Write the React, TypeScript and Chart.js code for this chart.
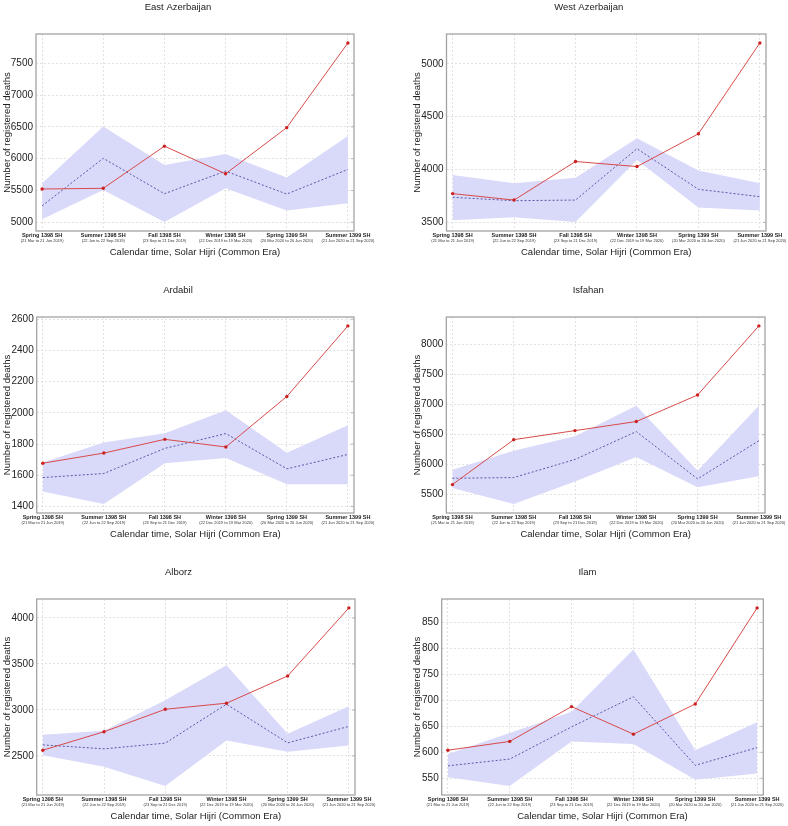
import React, { useEffect, useRef } from "react";
import { Chart, registerables } from "chart.js";

Chart.register(...registerables);

const FONT = '"Liberation Sans", Arial, Helvetica, sans-serif';
Chart.defaults.font.family = FONT;

const categories = ["Spring 1398 SH", "Summer 1398 SH", "Fall 1398 SH", "Winter 1398 SH", "Spring 1399 SH", "Summer 1399 SH"];
const periods = [
  "(21 Mar to 21 Jun 2019)",
  "(22 Jun to 22 Sep 2019)",
  "(23 Sep to 21 Dec 2019)",
  "(22 Dec 2019 to 19 Mar 2020)",
  "(20 Mar 2020 to 20 Jun 2020)",
  "(21 Jun 2020 to 21 Sep 2020)",
];
const xAxisTitle = "Calendar time, Solar Hijri (Common Era)";
const yAxisTitle = "Number of registered deaths";

const eastAzObserved = [5524, 5535, 6197, 5763, 6488, 7818];
const eastAzExpected = [5260, 6006, 5450, 5805, 5445, 5832];
const eastAzUpper = [5614, 6504, 5900, 6075, 5704, 6356];
const eastAzLower = [5048, 5508, 5005, 5535, 5185, 5302];

const westAzObserved = [3772, 3711, 4076, 4028, 4338, 5198];
const westAzExpected = [3737, 3705, 3711, 4197, 3813, 3743];
const westAzUpper = [3948, 3871, 3922, 4296, 3992, 3871];
const westAzLower = [3519, 3548, 3503, 4090, 3641, 3612];

const ardabilObserved = [1677, 1742, 1830, 1781, 2105, 2557];
const ardabilExpected = [1585, 1611, 1772, 1867, 1641, 1733];
const ardabilUpper = [1682, 1809, 1869, 2017, 1744, 1920];
const ardabilLower = [1495, 1415, 1677, 1710, 1542, 1542];

const isfahanObserved = [5668, 6417, 6568, 6719, 7161, 8313];
const isfahanExpected = [5774, 5785, 6087, 6551, 5763, 6400];
const isfahanUpper = [5914, 6233, 6473, 6982, 5897, 6982];
const isfahanLower = [5612, 5343, 5718, 6126, 5623, 5808];

const alborzObserved = [2562, 2763, 3007, 3073, 3369, 4109];
const alborzExpected = [2620, 2577, 2639, 3062, 2642, 2821];
const alborzUpper = [2730, 2774, 3106, 3485, 2741, 3040];
const alborzLower = [2507, 2383, 2172, 2668, 2544, 2613];

const ilamObserved = [604, 621, 688, 635, 693, 878];
const ilamExpected = [574, 587, 649, 707, 575, 609];
const ilamUpper = [597, 637, 678, 798, 604, 658];
const ilamLower = [552, 535, 621, 616, 547, 559];

type Panel = {
  title: string;
  observed: number[];
  expected: number[];
  upper: number[];
  lower: number[];
  step: number;
  col: number;
  row: number;
  plotLeft: number;
  plotRight: number;
};

const panels: Panel[] = [
  { title: "East Azerbaijan", observed: eastAzObserved, expected: eastAzExpected, upper: eastAzUpper, lower: eastAzLower, step: 500, col: 0, row: 0, plotLeft: 36, plotRight: 354 },
  { title: "West Azerbaijan", observed: westAzObserved, expected: westAzExpected, upper: westAzUpper, lower: westAzLower, step: 500, col: 1, row: 0, plotLeft: 52.5, plotRight: 372 },
  { title: "Ardabil", observed: ardabilObserved, expected: ardabilExpected, upper: ardabilUpper, lower: ardabilLower, step: 200, col: 0, row: 1, plotLeft: 36.7, plotRight: 354 },
  { title: "Isfahan", observed: isfahanObserved, expected: isfahanExpected, upper: isfahanUpper, lower: isfahanLower, step: 500, col: 1, row: 1, plotLeft: 52.3, plotRight: 371 },
  { title: "Alborz", observed: alborzObserved, expected: alborzExpected, upper: alborzUpper, lower: alborzLower, step: 500, col: 0, row: 2, plotLeft: 36.7, plotRight: 355 },
  { title: "Ilam", observed: ilamObserved, expected: ilamExpected, upper: ilamUpper, lower: ilamLower, step: 50, col: 1, row: 2, plotLeft: 47.7, plotRight: 369.3 },
];

const W = 394;
const H = 262;
const rowTops = [0, 282, 564];

const framePlugin = {
  id: "frame",
  afterDraw(chart: any) {
    const { ctx, chartArea, scales } = chart;
    const { left, right, top, bottom } = chartArea;
    ctx.save();
    ctx.strokeStyle = "#a4a4a4";
    ctx.lineWidth = 1.3;
    ctx.setLineDash([]);
    ctx.strokeRect(left, top, right - left, bottom - top);
    ctx.lineWidth = 1;
    ctx.strokeStyle = "#b4b4b4";
    scales.y.ticks.forEach((t: any) => {
      const y = scales.y.getPixelForValue(t.value);
      ctx.beginPath();
      ctx.moveTo(right, y);
      ctx.lineTo(right - 3, y);
      ctx.stroke();
    });
    ctx.fillStyle = "#333";
    ctx.font = `4px ${FONT}`;
    ctx.textAlign = "center";
    ctx.textBaseline = "middle";
    periods.forEach((p, i) => {
      ctx.fillText(p, scales.x.getPixelForValue(i), bottom + 9.5);
    });
    ctx.restore();
  },
};

function PanelChart({ p }: { p: Panel }) {
  const ref = useRef<HTMLCanvasElement>(null);
  useEffect(() => {
    if (!ref.current) return;
    const all = [...p.observed, ...p.expected, ...p.upper, ...p.lower];
    const dmin = Math.min(...all);
    const dmax = Math.max(...all);
    const pad = (dmax - dmin) * 0.05;
    const yMin = dmin - pad;
    const yMax = dmax + pad;
    const padL = p.col === 0 ? 2 : 17.5;
    const toPts = (arr: number[]) => arr.map((v, i) => ({ x: i, y: v }));
    const gridOpts = { color: "#e2e2e2", lineWidth: 1, drawTicks: false };
    const chart = new Chart(ref.current, {
      type: "line",
      data: {
        datasets: [
          { data: toPts(p.upper), order: 10, borderWidth: 0, pointRadius: 0, backgroundColor: "#d9d9fa", fill: "+1", tension: 0 },
          { data: toPts(p.lower), order: 11, borderWidth: 0, pointRadius: 0, backgroundColor: "#d9d9fa", fill: false, tension: 0 },
          { data: toPts(p.expected), order: 1, borderColor: "#5858a8", borderWidth: 1, borderDash: [2, 2], pointRadius: 0, fill: false, tension: 0 },
          { data: toPts(p.observed), order: 0, borderColor: "#d84a4a", borderWidth: 1, pointRadius: 1.7, pointBackgroundColor: "#cc2020", pointBorderWidth: 0, fill: false, tension: 0 },
        ],
      },
      options: {
        animation: false,
        responsive: false,
        events: [],
        layout: { padding: { left: padL, right: W - p.plotRight, top: p.row === 0 ? 0 : 1, bottom: 0 } },
        plugins: {
          legend: { display: false },
          tooltip: { enabled: false },
          title: {
            display: true,
            text: p.title,
            color: "#222",
            font: { size: 9.5, weight: "normal", family: FONT },
            padding: { top: 2, bottom: 20.6 },
          },
        },
        scales: {
          x: {
            type: "linear",
            min: -0.1,
            max: 5.1,
            afterBuildTicks: (s: any) => {
              s.ticks = categories.map((_, i) => ({ value: i }));
            },
            afterFit: (s: any) => {
              s.height = 31;
              s.paddingLeft = 0;
              s.paddingRight = 0;
            },
            ticks: {
              autoSkip: false,
              maxRotation: 0,
              minRotation: 0,
              padding: 1,
              color: "#222",
              font: { size: 5.5, weight: "bold", family: FONT },
              callback: (v: any) => categories[Math.round(Number(v))],
            },
            grid: gridOpts,
            border: { display: false, dash: [2, 2] },
            title: {
              display: true,
              text: xAxisTitle,
              color: "#222",
              font: { size: 9.5, family: FONT },
              padding: { top: 0, bottom: 4 },
            },
          },
          y: {
            type: "linear",
            min: yMin,
            max: yMax,
            afterBuildTicks: (s: any) => {
              const t: any[] = [];
              for (let v = Math.ceil(s.min / p.step) * p.step; v <= s.max; v += p.step) t.push({ value: v });
              s.ticks = t;
            },
            afterFit: (s: any) => {
              s.width = p.plotLeft - padL;
              s.paddingTop = 0;
              s.paddingBottom = 0;
            },
            ticks: {
              padding: 3,
              color: "#222",
              font: { size: 10, family: FONT },
              callback: (v: any) => String(v),
            },
            grid: gridOpts,
            border: { display: false, dash: [2, 2] },
            title: {
              display: true,
              text: yAxisTitle,
              color: "#222",
              font: { size: 9.5, family: FONT },
              padding: { top: 0, bottom: 0 },
            },
          },
        },
      },
      plugins: [framePlugin],
    } as any);
    return () => chart.destroy();
  }, [p]);
  return (
    <div style={{ position: "absolute", left: p.col * W, top: rowTops[p.row], width: W, height: H }}>
      <canvas ref={ref} width={W} height={H} style={{ width: W, height: H, display: "block" }} />
    </div>
  );
}

export default function App() {
  return (
    <div style={{ position: "absolute", left: 0, top: 0, width: 788, height: 826, overflow: "hidden", background: "#fff" }}>
      {panels.map((p) => (
        <PanelChart key={p.title} p={p} />
      ))}
    </div>
  );
}
